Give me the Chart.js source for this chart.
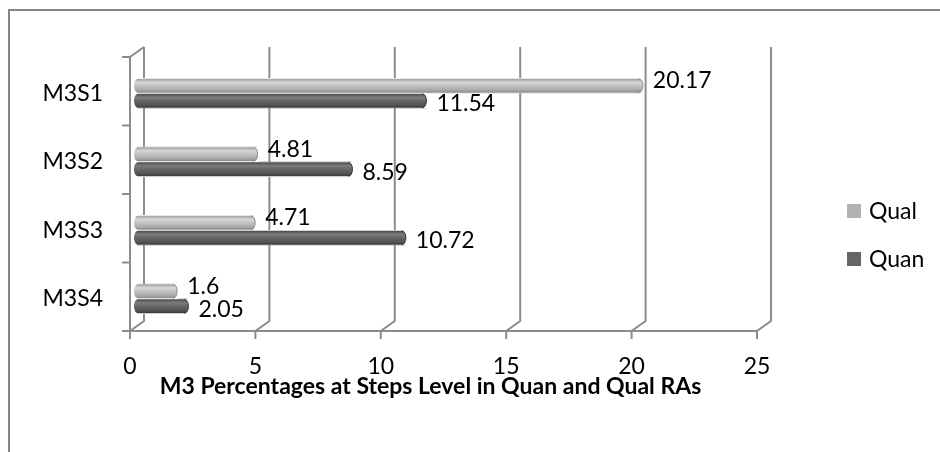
<!DOCTYPE html>
<html>
<head>
<meta charset="utf-8">
<script src="https://cdn.jsdelivr.net/npm/chart.js@4.4.1/dist/chart.umd.min.js"></script>
<style>
  html, body { margin: 0; padding: 0; background: #fff; }
  #wrap { width: 940px; height: 452px; }
</style>
</head>
<body>
<div id="wrap"><canvas id="chart" width="940" height="452"></canvas></div>
<script>
// values
const categories = ["M3S1", "M3S2", "M3S3", "M3S4"];
const qualValues = [20.17, 4.81, 4.71, 1.6];
const quanValues = [11.54, 8.59, 10.72, 2.05];
const xTicks = [0, 5, 10, 15, 20, 25];
const chartTitle = "M3 Percentages at Steps Level in Quan and Qual RAs";

const FONT = "Lato, 'Open Sans', sans-serif";
const LINE = "#8c8c8c";
// 3d look: back wall sits up-right, front edge down-left of the bar plane
const DX = 7, BACK_DY = -12, FRONT_DY = -2;

// shading used for the cylinder bars
const shades = {
    Qual: ["#9a9a9a", "#d6d6d6", "#c0c0c0", "#a9a9a9", "#8c8c8c"],
    Quan: ["#484848", "#7c7c7c", "#626262", "#545454", "#363636"],
};

const framePlugin = {
    id: "frame3d",
    beforeDraw(chart) {
        const c = chart.ctx;
        c.save();
        c.fillStyle = "#fff";
        c.fillRect(0, 0, chart.width, chart.height);
        // outer chart border (only top/left visible in the crop)
        c.strokeStyle = "#868686";
        c.lineWidth = 2;
        c.beginPath();
        c.moveTo(9, chart.height + 2);
        c.lineTo(9, 10);
        c.lineTo(chart.width + 2, 10);
        c.stroke();
        c.restore();
    },
    beforeDatasetsDraw(chart) {
        const c = chart.ctx;
        const a = chart.chartArea;
        const xs = chart.scales.x;
        const backTop = a.top + BACK_DY;
        const backBot = a.bottom + BACK_DY;
        const frontTop = a.top + FRONT_DY;
        const frontBot = a.bottom + FRONT_DY;
        c.save();
        c.strokeStyle = LINE;
        c.lineWidth = 2;
        c.lineCap = "butt";
        // back wall gridlines + floor diagonals + front ticks
        xTicks.forEach((v) => {
            const px = xs.getPixelForValue(v);
            c.beginPath();
            c.moveTo(px + DX, backTop);
            c.lineTo(px + DX, backBot);
            c.lineTo(px - DX, frontBot);
            c.lineTo(px - DX, frontBot + 8);
            c.stroke();
        });
        // front floor edge
        c.beginPath();
        c.moveTo(xs.getPixelForValue(0) - DX, frontBot);
        c.lineTo(xs.getPixelForValue(25) - DX, frontBot);
        c.stroke();
        // front left wall edge with top diagonal
        const x0 = xs.getPixelForValue(0);
        c.beginPath();
        c.moveTo(x0 + DX, backTop);
        c.lineTo(x0 - DX, frontTop);
        c.lineTo(x0 - DX, frontBot);
        c.stroke();
        // category tick marks on the front edge
        const band = (a.bottom - a.top) / categories.length;
        for (let k = 0; k <= categories.length; k++) {
            const y = a.top + k * band + FRONT_DY;
            c.beginPath();
            c.moveTo(x0 - DX - 8, y);
            c.lineTo(x0 - DX, y);
            c.stroke();
        }
        c.restore();
    },
    afterDatasetsDraw(chart) {
        const c = chart.ctx;
        chart.data.datasets.forEach((ds, di) => {
            const meta = chart.getDatasetMeta(di);
            const s = shades[ds.label];
            meta.data.forEach((bar, i) => {
                const p = bar.getProps(["x", "y", "base", "height"], true);
                const top = p.y - p.height / 2 + 0.5;
                const h = p.height - 1;
                const left = p.base - 3;
                const rx = 4;
                const g = c.createLinearGradient(0, top, 0, top + h);
                g.addColorStop(0, s[0]);
                g.addColorStop(0.25, s[1]);
                g.addColorStop(0.55, s[2]);
                g.addColorStop(0.8, s[3]);
                g.addColorStop(1, s[4]);
                c.save();
                c.clearRect(p.base - 1, p.y - p.height / 2, p.x - p.base + 2, p.height);
                c.fillStyle = g;
                c.beginPath();
                c.ellipse(left + rx, top + h / 2, rx, h / 2, 0, Math.PI / 2, Math.PI * 1.5);
                c.lineTo(p.x - rx, top);
                c.ellipse(p.x - rx, top + h / 2, rx, h / 2, 0, -Math.PI / 2, Math.PI / 2);
                c.closePath();
                c.fill();
                c.strokeStyle = s[4];
                c.lineWidth = 1;
                c.beginPath();
                c.ellipse(p.x - rx, top + h / 2, rx, h / 2, 0, -Math.PI / 2, Math.PI / 2);
                c.stroke();
                // value label beside the end cap
                c.fillStyle = "#000";
                c.font = "23px " + FONT;
                c.textAlign = "left";
                c.textBaseline = "middle";
                const dy = ds.label === "Qual" ? -5 : 3;
                c.fillText(String(ds.data[i]), p.x + 10, p.y + dy);
                c.restore();
            });
        });
    },
    afterDraw(chart) {
        const c = chart.ctx;
        const a = chart.chartArea;
        const xs = chart.scales.x;
        c.save();
        // axis title
        c.fillStyle = "#000";
        c.font = "bold 23px " + FONT;
        c.textAlign = "center";
        c.textBaseline = "middle";
        const mid = (xs.getPixelForValue(0) + xs.getPixelForValue(25)) / 2 - 20;
        c.fillText(chartTitle, mid, a.bottom + 54);
        // legend on the right
        c.font = "23px " + FONT;
        c.textAlign = "left";
        chart.data.datasets.forEach((ds, di) => {
            const ly = 211 + di * 48;
            c.fillStyle = ds.backgroundColor;
            c.fillRect(847, ly - 7, 14, 14);
            c.fillStyle = "#000";
            c.fillText(ds.label, 869, ly + 1);
        });
        c.restore();
    },
};

new Chart(document.getElementById("chart"), {
    type: "bar",
    data: {
        labels: categories,
        datasets: [
            { label: "Qual", data: qualValues, backgroundColor: "#b2b2b2" },
            { label: "Quan", data: quanValues, backgroundColor: "#666666" },
        ],
    },
    options: {
        indexAxis: "y",
        responsive: false,
        animation: false,
        events: [],
        devicePixelRatio: 1,
        layout: { padding: { left: 0, right: 176, top: 59, bottom: 0 } },
        datasets: { bar: { categoryPercentage: 0.44, barPercentage: 1.0 } },
        scales: {
            x: {
                min: 0,
                max: 25,
                grid: { display: false, drawTicks: false },
                border: { display: false },
                afterBuildTicks(scale) { scale.ticks = xTicks.map((v) => ({ value: v })); },
                afterFit(scale) { scale.height = 119; },
                ticks: { color: "#000", font: { family: FONT, size: 23 }, padding: 20, labelOffset: -DX },
            },
            y: {
                grid: { display: false, drawTicks: false },
                border: { display: false },
                afterFit(scale) { scale.width = 137; },
                ticks: { color: "#000", font: { family: FONT, size: 23 }, padding: 34 },
            },
        },
        plugins: {
            legend: { display: false },
            tooltip: { enabled: false },
            title: { display: false },
        },
    },
    plugins: [framePlugin],
});
</script>
</body>
</html>
